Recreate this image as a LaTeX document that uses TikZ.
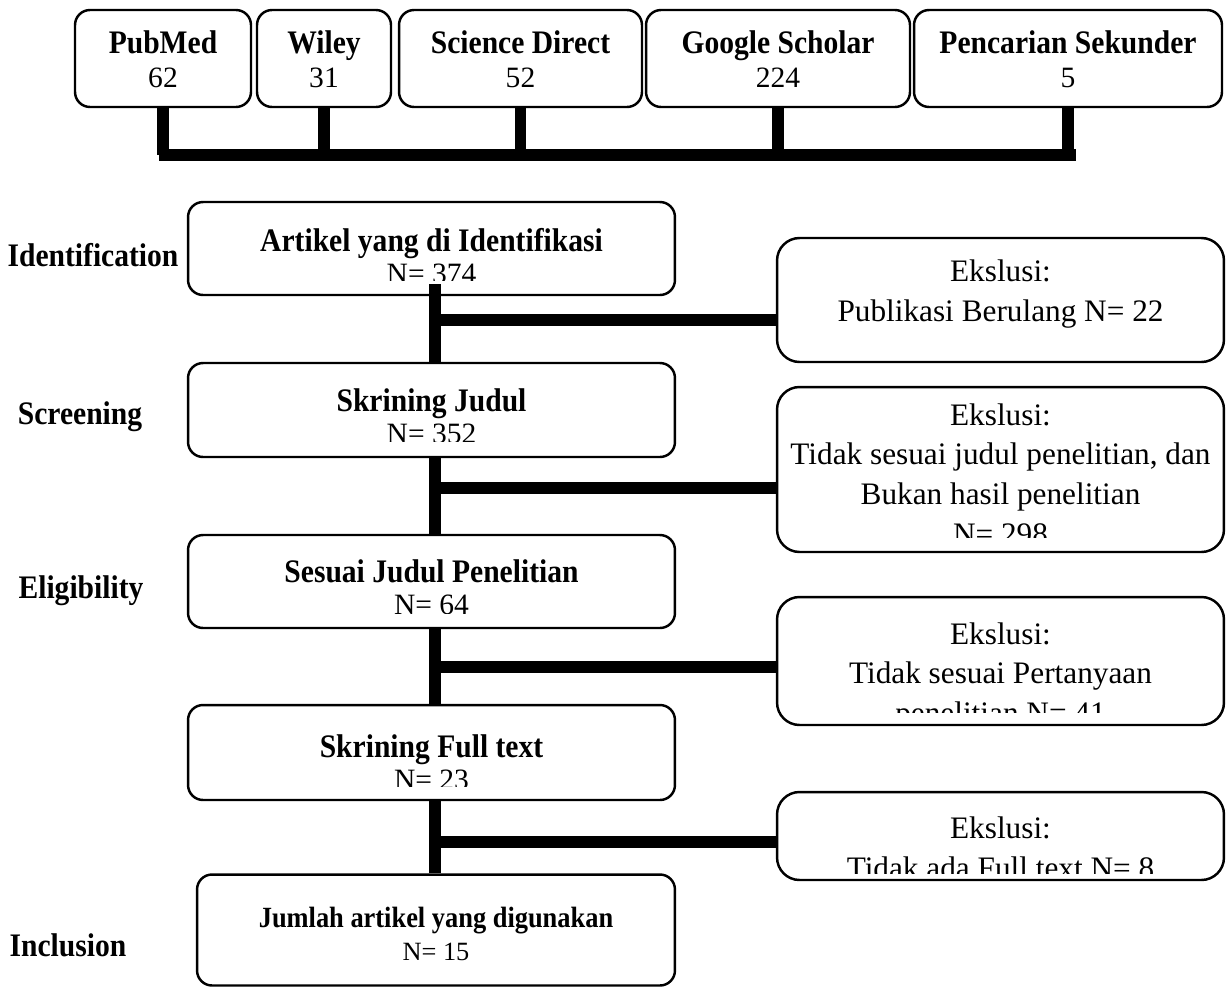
\documentclass[tikz,border=0pt]{standalone}
\usepackage{fontspec}
\setmainfont{Liberation Serif}[BoldFeatures={FakeStretch=0.9}]
\usetikzlibrary{calc}

\newcommand\headfont{\fontsize{18.7}{18.3}\selectfont\bfseries}
\newcommand\numfont{\fontsize{16.8}{18.3}\selectfont}
\newcommand\topfont{\fontsize{16.8}{19.3}\selectfont}
\newcommand\smallhead{\fontsize{16.7}{18.8}\selectfont\bfseries}
\newcommand\smallnum{\fontsize{15}{18.8}\selectfont}
\newcommand\exclfont{\fontsize{17.8}{22.5}\selectfont}

\begin{document}
\begin{tikzpicture}[x=0.02cm, y=-0.02cm,
                    srcbox/.style  = {draw, line width=1.4pt, rounded corners=0.3cm,
                                      minimum height=1.94cm, inner sep=0pt},
                    mainbox/.style = {draw, line width=1.4pt, rounded corners=0.3cm,
                                      minimum width=9.74cm, inner sep=0pt},
                    exclbox/.style = {draw, line width=1.4pt, rounded corners=0.45cm,
                                      minimum width=8.94cm, inner sep=0pt},
                    boxtext/.style = {align=center, inner sep=0pt},
                    phase/.style   = {font=\headfont, inner sep=0pt, anchor=base},
                    conn/.style    = {line width=6.3pt}
                   ]
     \useasboundingbox (0,0) rectangle (1226,987);

     % sources
     \node[srcbox, minimum width=3.52cm] (pubmed)   at (163,58.5)  {};
     \node[srcbox, minimum width=2.68cm] (wiley)    at (324,58.5)  {};
     \node[srcbox, minimum width=4.86cm] (scidir)   at (520.5,58.5) {};
     \node[srcbox, minimum width=5.28cm] (gscholar) at (778,58.5)  {};
     \node[srcbox, minimum width=6.16cm] (sekunder) at (1068,58.5) {};

     \node[boxtext, font=\topfont] (pubmedtxt)   at (163,59)  {{\headfont PubMed}\\62};
     \node[boxtext, font=\topfont] (wileytxt)    at (324,59)  {{\headfont Wiley}\\31};
     \node[boxtext, font=\topfont] (scidirtxt)   at (520.5,59) {{\headfont Science Direct}\\52};
     \node[boxtext, font=\topfont] (gscholartxt) at (778,59)  {{\headfont Google Scholar}\\224};
     \node[boxtext, font=\topfont] (sekundertxt) at (1068,59) {{\headfont Pencarian Sekunder}\\5};

     \coordinate (barL) at (159,155);
     \coordinate (barR) at (1076,155);
     \draw[conn] (barL) -- (barR);
     \foreach \src in {pubmed, wiley, scidir, gscholar, sekunder}
         \draw[conn] (\src.south) -- (\src.south |- barL);

     % phases
     \node[phase] (phident)  at (93,266) {Identification};
     \node[phase] (phscreen) at (80,424) {Screening};
     \node[phase] (phelig)   at (81,598) {Eligibility};
     \node[phase] (phincl)   at (68,956) {Inclusion};

     % main flow
     \node[mainbox, minimum height=1.86cm] (ident)    at (431.5,248.5) {};
     \node[mainbox, minimum height=1.88cm] (skrjudul) at (431.5,410)   {};
     \node[mainbox, minimum height=1.86cm] (sesuai)   at (431.5,581.5) {};
     \node[mainbox, minimum height=1.90cm] (fulltext) at (431.5,752.5) {};
     \node[mainbox, minimum width=9.56cm, minimum height=2.22cm] (jumlah) at (436,930) {};

     \begin{scope}
       \clip (188,202) rectangle (675,280);
       \node[boxtext, font=\numfont] (identtxt) at (431.5,256) {{\headfont Artikel yang di Identifikasi}\\N= 374};
     \end{scope}
     \begin{scope}
       \clip (188,363) rectangle (675,441);
       \node[boxtext, font=\numfont] (skrjudultxt) at (431.5,416) {{\headfont Skrining Judul}\\N= 352};
     \end{scope}
     \begin{scope}
       \clip (188,535) rectangle (675,613);
       \node[boxtext, font=\numfont] (sesuaitxt) at (431.5,587) {{\headfont Sesuai Judul Penelitian}\\N= 64};
     \end{scope}
     \begin{scope}
       \clip (188,705) rectangle (675,786);
       \node[boxtext, font=\numfont] (fulltexttxt) at (431.5,762) {{\headfont Skrining Full text}\\N= 23};
     \end{scope}
     \node[boxtext, font=\smallnum] (jumlahtxt) at (436,934) {{\smallhead Jumlah artikel yang digunakan}\\N= 15};

     % exclusions
     \node[exclbox, minimum height=2.48cm] (excl1) at (1000.5,300)   {};
     \node[exclbox, minimum height=3.30cm] (excl2) at (1000.5,469.5) {};
     \node[exclbox, minimum height=2.56cm] (excl3) at (1000.5,661)   {};
     \node[exclbox, minimum height=1.76cm] (excl4) at (1000.5,836)   {};

     \node[boxtext, font=\exclfont] (excl1txt) at (1000.5,294) {Ekslusi:\\Publikasi Berulang N= 22};
     \begin{scope}
       \clip (777,387) rectangle (1224,537);
       \node[boxtext, font=\exclfont] (excl2txt) at (1000.5,474)
            {Ekslusi:\\Tidak sesuai judul penelitian, dan\\Bukan hasil penelitian\\N= 298};
     \end{scope}
     \begin{scope}
       \clip (777,597) rectangle (1224,712);
       \node[boxtext, font=\exclfont] (excl3txt) at (1000.5,676)
            {Ekslusi:\\Tidak sesuai Pertanyaan\\penelitian N= 41};
     \end{scope}
     \begin{scope}
       \clip (777,792) rectangle (1224,873);
       \node[boxtext, font=\exclfont] (excl4txt) at (1000.5,848) {Ekslusi:\\Tidak ada Full text N= 8};
     \end{scope}

     % connectors
     \coordinate (spine) at (435,0);
     \draw[conn] ($(ident.south -| spine)+(0,-12)$) -- (skrjudul.north -| spine);
     \draw[conn] (skrjudul.south -| spine) -- (sesuai.north -| spine);
     \draw[conn] (sesuai.south -| spine)   -- (fulltext.north -| spine);
     \draw[conn] (fulltext.south -| spine) -- (jumlah.north -| spine);

     \coordinate (j1) at (435,320);
     \coordinate (j2) at (435,488);
     \coordinate (j3) at (435,667);
     \coordinate (j4) at (435,842);
     \foreach \i in {1,...,4}
         \draw[conn] (j\i) -- (j\i -| excl\i.west);

\end{tikzpicture}
\end{document}
